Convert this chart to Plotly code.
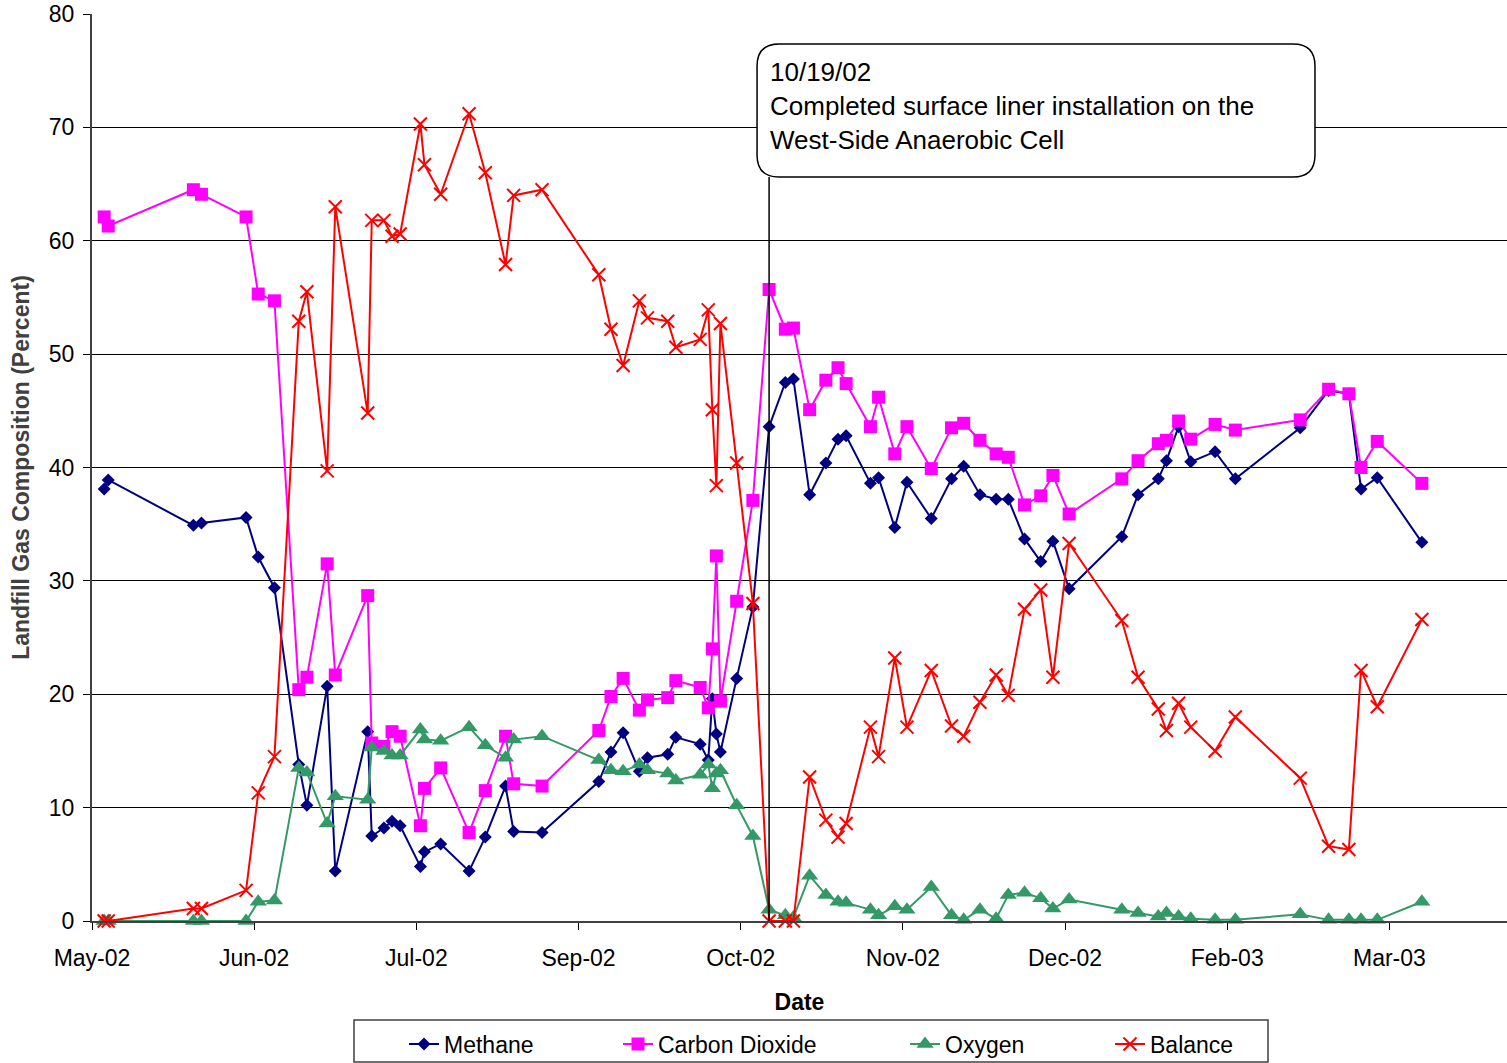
import plotly.graph_objects as go

# sampling dates
dates = [
    "2002-05-08", "2002-05-09", "2002-05-30", "2002-06-01", "2002-06-12", "2002-06-15",
    "2002-06-19", "2002-06-25", "2002-06-27", "2002-07-02", "2002-07-04", "2002-07-12",
    "2002-07-13", "2002-07-16", "2002-07-18", "2002-07-20", "2002-07-25", "2002-07-26",
    "2002-07-30", "2002-08-06", "2002-08-10", "2002-08-15", "2002-08-17", "2002-08-24",
    "2002-09-07", "2002-09-10", "2002-09-13", "2002-09-17", "2002-09-19", "2002-09-24",
    "2002-09-26", "2002-10-02", "2002-10-04", "2002-10-05", "2002-10-06", "2002-10-07",
    "2002-10-11", "2002-10-15", "2002-10-19", "2002-10-23", "2002-10-25", "2002-10-29",
    "2002-11-02", "2002-11-05", "2002-11-07", "2002-11-13", "2002-11-15", "2002-11-19",
    "2002-11-22", "2002-11-28", "2002-12-03", "2002-12-06", "2002-12-10", "2002-12-14",
    "2002-12-17", "2002-12-21", "2002-12-25", "2002-12-28", "2003-01-01", "2003-01-14",
    "2003-01-18", "2003-01-23", "2003-01-25", "2003-01-28", "2003-01-31", "2003-02-06",
    "2003-02-11", "2003-02-27", "2003-03-06", "2003-03-11", "2003-03-14", "2003-03-18",
    "2003-03-29",
]

methane = [
    38.1, 38.9, 34.9, 35.1, 35.6, 32.1, 29.4, 13.8, 10.2, 20.7, 4.4, 16.7,
    7.5, 8.2, 8.8, 8.4, 4.8, 6.1, 6.8, 4.4, 7.4, 11.9, 7.9, 7.8,
    12.3, 14.9, 16.6, 13.2, 14.4, 14.7, 16.2, 15.6, 14.2, 19.6, 16.5, 14.9,
    21.4, 27.7, 43.6, 47.5, 47.8, 37.6, 40.4, 42.5, 42.8, 38.6, 39.1, 34.7,
    38.7, 35.5, 39.0, 40.1, 37.6, 37.2, 37.2, 33.7, 31.7, 33.5, 29.3, 33.9,
    37.6, 39.0, 40.6, 43.6, 40.5, 41.4, 39.0, 43.5, 46.8, 46.5, 38.1, 39.1,
    33.4,
]

carbon_dioxide = [
    62.1, 61.3, 64.5, 64.1, 62.1, 55.3, 54.7, 20.4, 21.5, 31.5, 21.7, 28.7,
    15.7, 15.4, 16.7, 16.3, 8.4, 11.7, 13.5, 7.8, 11.5, 16.3, 12.1, 11.9,
    16.8, 19.8, 21.4, 18.6, 19.5, 19.7, 21.2, 20.6, 18.8, 24.0, 32.2, 19.4,
    28.2, 37.1, 55.7, 52.2, 52.3, 45.1, 47.7, 48.8, 47.4, 43.6, 46.2, 41.2,
    43.6, 39.9, 43.5, 43.9, 42.4, 41.2, 40.9, 36.7, 37.5, 39.3, 35.9, 39.0,
    40.6, 42.1, 42.4, 44.1, 42.5, 43.8, 43.3, 44.2, 46.9, 46.5, 40.0, 42.3,
    38.6,
]

oxygen = [
    0.0, 0.0, 0.0, 0.0, 0.0, 1.7, 1.8, 13.5, 13.1, 8.6, 11.0, 10.7,
    15.3, 15.0, 14.6, 14.6, 16.9, 16.0, 15.9, 17.1, 15.5, 14.4, 16.0, 16.3,
    14.2, 13.3, 13.2, 13.8, 13.3, 13.0, 12.4, 12.9, 13.8, 11.7, 13.0, 13.3,
    10.2, 7.5, 1.0, 0.5, 0.3, 4.0, 2.3, 1.7, 1.6, 1.0, 0.5, 1.3,
    1.0, 3.0, 0.5, 0.1, 1.0, 0.2, 2.3, 2.5, 2.0, 1.1, 1.9, 1.0,
    0.7, 0.4, 0.7, 0.4, 0.2, 0.1, 0.1, 0.6, 0.1, 0.1, 0.1, 0.1,
    1.7,
]

balance = [
    0.0, 0.0, 1.1, 1.1, 2.7, 11.3, 14.5, 52.9, 55.5, 39.7, 63.0, 44.8,
    61.8, 61.8, 60.4, 60.6, 70.3, 66.7, 64.1, 71.2, 66.0, 57.9, 64.0, 64.5,
    57.0, 52.2, 49.0, 54.7, 53.2, 52.9, 50.6, 51.3, 53.9, 45.1, 38.4, 52.7,
    40.4, 28.0, 0.0, 0.0, 0.0, 12.7, 8.9, 7.4, 8.6, 17.1, 14.5, 23.2,
    17.1, 22.1, 17.2, 16.3, 19.3, 21.7, 19.9, 27.5, 29.2, 21.5, 33.3, 26.5,
    21.5, 18.7, 16.8, 19.2, 17.1, 15.0, 18.0, 12.6, 6.6, 6.3, 22.1, 18.9,
    26.6,
]

tick_dates = ["2002-05-05", "2002-06-14", "2002-07-24", "2002-09-02", "2002-10-12",
              "2002-11-21", "2002-12-31", "2003-02-09", "2003-03-21"]
tick_labels = ["May-02", "Jun-02", "Jul-02", "Sep-02", "Oct-02",
               "Nov-02", "Dec-02", "Feb-03", "Mar-03"]

event_date = "2002-10-19"
event_text = "10/19/02<br>Completed surface liner installation on the<br>West-Side Anaerobic Cell"

FONT = "Liberation Sans, Arial, sans-serif"

fig = go.Figure()

fig.add_trace(go.Scatter(
    x=dates, y=methane, name="Methane", mode="lines+markers",
    line=dict(color="#000080", width=2),
    marker=dict(symbol="diamond", size=10, color="#000080"),
    cliponaxis=False, legendwidth=169,
))
fig.add_trace(go.Scatter(
    x=dates, y=carbon_dioxide, name="Carbon Dioxide", mode="lines+markers",
    line=dict(color="#FF00FF", width=2),
    marker=dict(symbol="square", size=13, color="#FF00FF"),
    cliponaxis=False, legendwidth=242,
))
fig.add_trace(go.Scatter(
    x=dates, y=oxygen, name="Oxygen", mode="lines+markers",
    line=dict(color="#339966", width=2),
    marker=dict(symbol="triangle-up", size=15, color="#339966"),
    cliponaxis=False, legendwidth=160,
))
fig.add_trace(go.Scatter(
    x=dates, y=balance, name="Balance", mode="lines+markers",
    line=dict(color="#FF0000", width=2),
    marker=dict(symbol="x-thin", size=13, color="#FF0000",
                line=dict(color="#FF0000", width=2)),
    cliponaxis=False, legendwidth=100,
))

# rounded callout box
x0, x1 = 0.470, 0.8643
y0, y1 = 0.8203, 0.9669
rx, ry = 0.0155, 0.0243
box_path = (
    f"M {x0 + rx},{y0} L {x1 - rx},{y0} Q {x1},{y0} {x1},{y0 + ry} "
    f"L {x1},{y1 - ry} Q {x1},{y1} {x1 - rx},{y1} "
    f"L {x0 + rx},{y1} Q {x0},{y1} {x0},{y1 - ry} "
    f"L {x0},{y0 + ry} Q {x0},{y0} {x0 + rx},{y0} Z"
)

fig.update_layout(
    width=1507, height=1063,
    margin=dict(l=92, r=0, t=14, b=142, autoexpand=False),
    paper_bgcolor="white", plot_bgcolor="white",
    font=dict(family=FONT, size=23, color="black"),
    showlegend=True,
    legend=dict(
        orientation="h", x=0.2205, xanchor="left", y=-0.1356, yanchor="middle",
        bgcolor="rgba(0,0,0,0)", borderwidth=0,
        font=dict(family=FONT, size=23, color="black"),
    ),
    xaxis=dict(
        type="date", range=["2002-05-05", "2003-04-19"],
        tickvals=tick_dates, ticktext=tick_labels,
        ticks="outside", ticklen=7, tickcolor="black", tickwidth=1,
        ticklabelstandoff=8, automargin=False, ticklabeloverflow="allow",
        showline=True, linecolor="#404040", linewidth=2,
        showgrid=False, zeroline=False,
        tickfont=dict(family=FONT, size=23),
        title=dict(text="Date", font=dict(family=FONT, size=23, weight="bold"), standoff=24),
    ),
    yaxis=dict(
        range=[0, 80], dtick=10,
        ticks="outside", ticklen=7, tickcolor="black", tickwidth=1,
        ticklabelstandoff=4, automargin=False, ticklabeloverflow="allow",
        showline=True, linecolor="#404040", linewidth=2,
        showgrid=True, gridcolor="black", gridwidth=1, zeroline=False,
        tickfont=dict(family=FONT, size=23),
        title=dict(text="Landfill Gas Composition (Percent)",
                   font=dict(family=FONT, size=23, weight="bold", color="#404040"),
                   standoff=13),
    ),
    shapes=[
        dict(type="line", xref="x", yref="paper", x0=event_date, x1=event_date,
             y0=0, y1=y0, line=dict(color="black", width=1.5)),
        dict(type="path", xref="paper", yref="paper", path=box_path,
             fillcolor="white", line=dict(color="black", width=1.5)),
        dict(type="rect", xref="paper", yref="paper",
             x0=(354 - 92) / 1415, x1=(1268 - 92) / 1415,
             y0=-(1062 - 921) / 907, y1=-(1020 - 921) / 907,
             line=dict(color="#404040", width=1.5), fillcolor="rgba(0,0,0,0)"),
    ],
    annotations=[
        dict(xref="paper", yref="paper", x=0.4777, y=0.8986,
             xanchor="left", yanchor="middle", align="left", showarrow=False,
             text=event_text, font=dict(family=FONT, size=26, color="black")),
    ],
)

# drop the page's default body margin so the figure fills the window
fig.write_html("out.html", config={"displayModeBar": False},
               post_script="document.body.style.margin = '0';")
